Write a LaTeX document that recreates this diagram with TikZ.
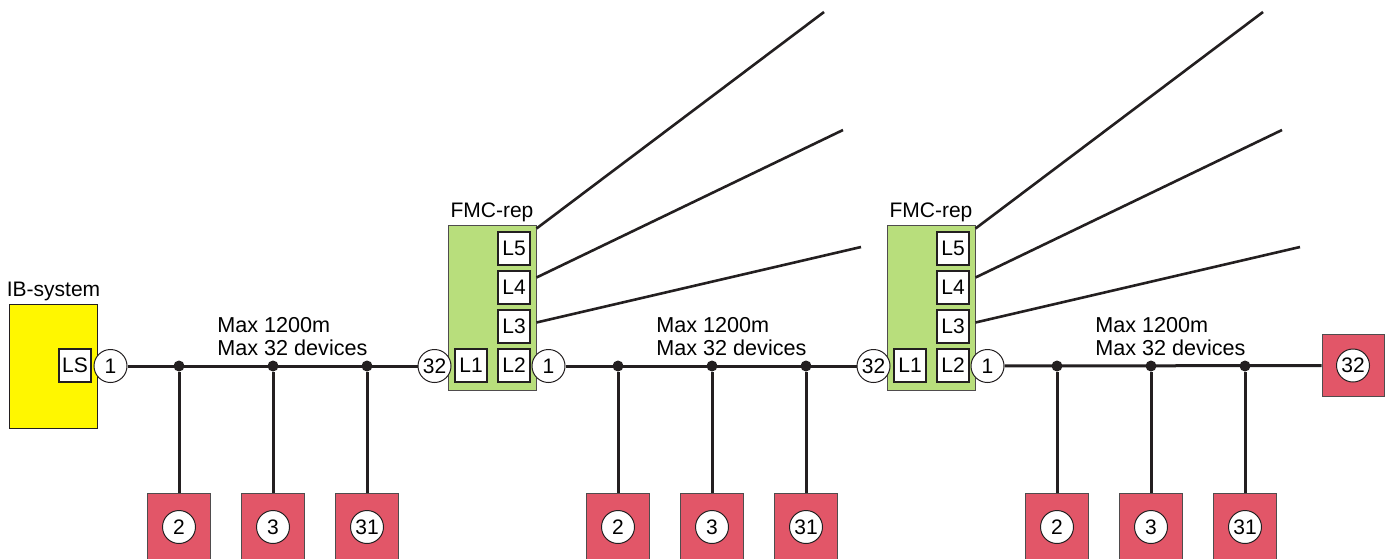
\documentclass[tikz,border=0pt]{standalone}
\usepackage{fontspec}
\setmainfont{Liberation Sans}
\usepackage{tikz}
\usetikzlibrary{positioning}

\definecolor{ibyellow}{RGB}{255,247,0}
\definecolor{fmcgreen}{RGB}{184,222,124}
\definecolor{devred}{RGB}{226,86,104}
\definecolor{wire}{RGB}{35,31,32}

\begin{document}
\begin{tikzpicture}[x=0.5pt, y=-0.5pt, font=\fontsize{10.5}{11.5}\selectfont,
    ibbox/.style={rectangle, draw=wire, line width=0.5pt, fill=ibyellow, minimum width=44pt, minimum height=62pt, inner sep=0pt},
    fmcbox/.style={rectangle, draw=wire!80, line width=0.5pt, fill=fmcgreen, minimum width=44pt, minimum height=82.5pt, inner sep=0pt},
    devbox/.style={rectangle, draw=wire!80, line width=0.5pt, fill=devred, minimum width=31.5pt, minimum height=34pt, inner sep=0pt},
    port/.style={rectangle, draw=wire, line width=0.7pt, fill=white, minimum width=16pt, minimum height=16.5pt, inner sep=0pt},
    addr/.style={circle, draw=wire, line width=0.5pt, fill=white, minimum size=16.5pt, inner sep=0pt},
    tap/.style={circle, fill=wire, minimum size=5.5pt, inner sep=0pt},
    bus/.style={line width=1.5pt, wire},
    fibre/.style={line width=1.3pt, wire},
    info/.style={anchor=base west, align=left, inner sep=0pt, font=\fontsize{10.8}{11.5}\selectfont}]
        \useasboundingbox (0,0) rectangle (1393,558);

        % IB-system
        \node (ib) [ibbox] at (53.5,366) {};
        \node (iblbl) [above=0pt of ib, inner sep=1pt] {IB-system};
        \node (ls) [port] at (75,365.5) {LS};
        \node (n1a) [addr] at (110.5,366) {1};

        % Segment 1
        \node (tap1a) [tap] at (179,366) {};
        \node (tap1b) [tap] at (273,366) {};
        \node (tap1c) [tap] at (367,366) {};
        \node (dev1a) [devbox] at (179,527) {};
        \node (dev1b) [devbox] at (273,527) {};
        \node (dev1c) [devbox] at (367,527) {};
        \node (n2a) [addr] at (dev1a) {2};
        \node (n3a) [addr] at (dev1b) {3};
        \node (n31a) [addr] at (dev1c) {31};
        \node (info1) [info] at (217,355) {Max 1200m\\Max 32 devices};

        % FMC-rep 1
        \node (fmc1) [fmcbox] at (492,307.5) {};
        \node (fmc1lbl) [above=0pt of fmc1, inner sep=1pt] {FMC-rep};
        \node (l1a) [port] at (471,365.5) {L1};
        \node (l2a) [port] at (514,365.5) {L2};
        \node (l3a) [port] at (514,326.5) {L3};
        \node (l4a) [port] at (514,287.5) {L4};
        \node (l5a) [port] at (514,248.5) {L5};
        \node (n32a) [addr] at (434.5,366) {32};
        \node (n1b) [addr] at (548.5,366) {1};

        % Segment 2
        \node (tap2a) [tap] at (618,366) {};
        \node (tap2b) [tap] at (712,366) {};
        \node (tap2c) [tap] at (806,366) {};
        \node (dev2a) [devbox] at (618,527) {};
        \node (dev2b) [devbox] at (712,527) {};
        \node (dev2c) [devbox] at (806,527) {};
        \node (n2b) [addr] at (dev2a) {2};
        \node (n3b) [addr] at (dev2b) {3};
        \node (n31b) [addr] at (dev2c) {31};
        \node (info2) [info] at (656,355) {Max 1200m\\Max 32 devices};

        % FMC-rep 2
        \node (fmc2) [fmcbox] at (931,307.5) {};
        \node (fmc2lbl) [above=0pt of fmc2, inner sep=1pt] {FMC-rep};
        \node (l1b) [port] at (910,365.5) {L1};
        \node (l2b) [port] at (953,365.5) {L2};
        \node (l3b) [port] at (953,326.5) {L3};
        \node (l4b) [port] at (953,287.5) {L4};
        \node (l5b) [port] at (953,248.5) {L5};
        \node (n32b) [addr] at (873.5,366) {32};
        \node (n1c) [addr] at (987.5,366) {1};

        % Segment 3
        \node (tap3a) [tap] at (1057,366) {};
        \node (tap3b) [tap] at (1151,366) {};
        \node (tap3c) [tap] at (1245,366) {};
        \node (dev3a) [devbox] at (1057,527) {};
        \node (dev3b) [devbox] at (1151,527) {};
        \node (dev3c) [devbox] at (1245,527) {};
        \node (n2c) [addr] at (dev3a) {2};
        \node (n3c) [addr] at (dev3b) {3};
        \node (n31c) [addr] at (dev3c) {31};
        \node (info3) [info] at (1095,355) {Max 1200m\\Max 32 devices};
        \node (dev32) [devbox, minimum width=31pt, minimum height=31pt] at (1353,365.5) {};
        \node (n32c) [addr] at (dev32) {32};

        % Fibre ends
        \coordinate (fan1a) at (824,12);
        \coordinate (fan1b) at (843,130);
        \coordinate (fan1c) at (861,247);
        \coordinate (fan2a) at (1263,12);
        \coordinate (fan2b) at (1282,130);
        \coordinate (fan2c) at (1300,247);

        % Bus lines
        \draw[bus] (n1a) -- (n32a);
        \draw[bus] (n1b) -- (n32b);
        \draw[bus] (n1c) -- (dev32);
        \draw[bus] (tap1a) -- (dev1a);
        \draw[bus] (tap1b) -- (dev1b);
        \draw[bus] (tap1c) -- (dev1c);
        \draw[bus] (tap2a) -- (dev2a);
        \draw[bus] (tap2b) -- (dev2b);
        \draw[bus] (tap2c) -- (dev2c);
        \draw[bus] (tap3a) -- (dev3a);
        \draw[bus] (tap3b) -- (dev3b);
        \draw[bus] (tap3c) -- (dev3c);

        % Fibre lines
        \draw[fibre] ([yshift=-2pt]fmc1.north east) -- (fan1a);
        \draw[fibre] ([yshift=-26.5pt]fmc1.north east) -- (fan1b);
        \draw[fibre] ([yshift=-49pt]fmc1.north east) -- (fan1c);
        \draw[fibre] ([yshift=-2pt]fmc2.north east) -- (fan2a);
        \draw[fibre] ([yshift=-26.5pt]fmc2.north east) -- (fan2b);
        \draw[fibre] ([yshift=-49pt]fmc2.north east) -- (fan2c);
    \end{tikzpicture}
\end{document}
